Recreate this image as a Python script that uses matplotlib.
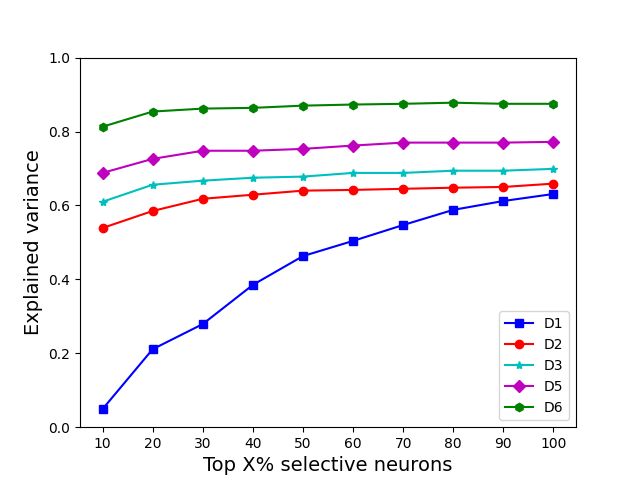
import matplotlib
matplotlib.use('Agg')
import matplotlib.pyplot as plt

# top X% of selective neurons
top_x = [10, 20, 30, 40, 50, 60, 70, 80, 90, 100]

d1 = [0.049, 0.211, 0.279, 0.385, 0.463, 0.504, 0.547, 0.588, 0.612, 0.631]
d2 = [0.539, 0.585, 0.618, 0.629, 0.640, 0.642, 0.645, 0.648, 0.650, 0.659]
d3 = [0.610, 0.656, 0.667, 0.675, 0.678, 0.688, 0.688, 0.694, 0.694, 0.699]
d5 = [0.688, 0.726, 0.748, 0.748, 0.753, 0.762, 0.770, 0.770, 0.770, 0.772]
d6 = [0.813, 0.854, 0.862, 0.864, 0.870, 0.873, 0.875, 0.878, 0.875, 0.875]

fig, ax = plt.subplots(figsize=(6.4, 4.8), dpi=100)

ax.plot(top_x, d1, 'bs-', label='D1')
ax.plot(top_x, d2, 'ro-', label='D2')
ax.plot(top_x, d3, 'c*-', label='D3')
ax.plot(top_x, d5, 'mD-', label='D5')
ax.plot(top_x, d6, 'gh-', label='D6')

ax.set_xticks(top_x)
ax.set_ylim(0, 1.0)
ax.set_xlabel('Top X% selective neurons', fontsize=14)
ax.set_ylabel('Explained variance', fontsize=14)
ax.legend(loc='lower right')

fig.savefig('out.png')
